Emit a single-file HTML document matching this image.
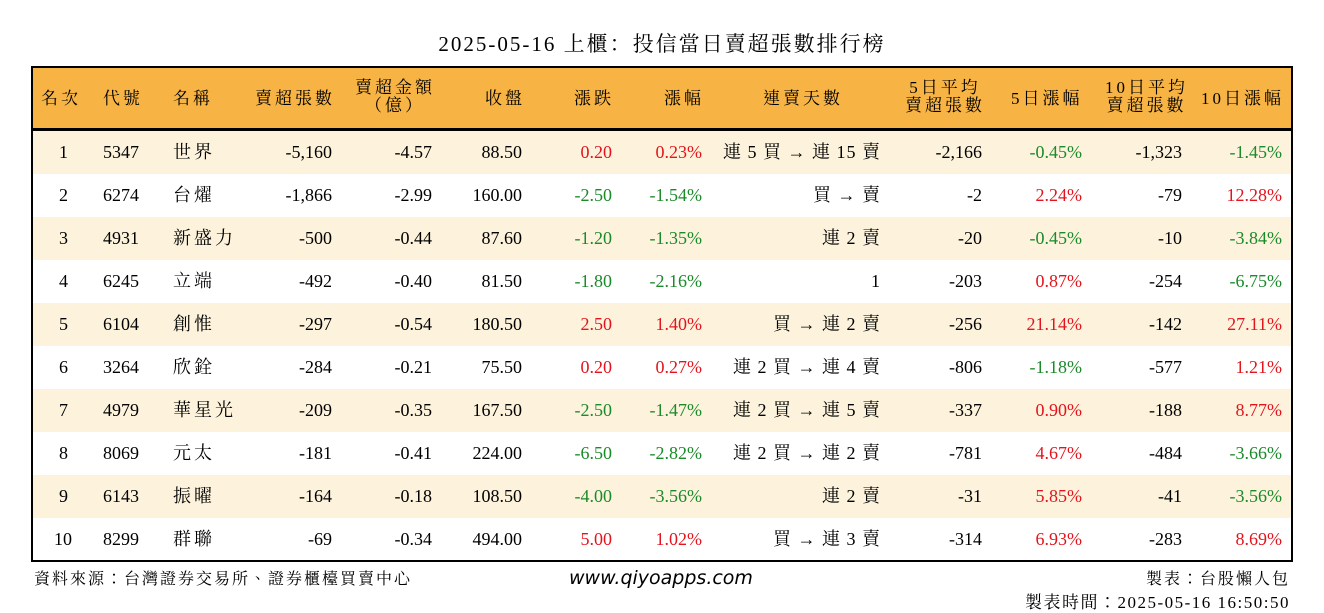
<!DOCTYPE html>
<html><head><meta charset="utf-8">
<style>
body{margin:0;width:1324px;height:612px;background:#fff;position:relative;overflow:hidden;font-family:"Liberation Serif","Noto Serif CJK SC",serif;color:#000}
.title{position:absolute;left:0;width:1324px;top:28px;text-align:center;font-size:21px;letter-spacing:2px}
.tbl{position:absolute;left:31px;top:66px;width:1258px;height:492px;border:2px solid #000;overflow:hidden}
.hdr{position:absolute;left:0;top:0;width:1258px;height:60px;background:#f7b445;border-bottom:3px solid #000}
.row{position:absolute;left:0;width:1258px;height:43px}
.c{position:absolute;font-size:18px;white-space:nowrap;line-height:20px}
.cj{letter-spacing:3px}
.st{letter-spacing:1px}
.h{position:absolute;font-size:17px;line-height:18px;text-align:center;white-space:nowrap;letter-spacing:3px;font-family:"Liberation Serif","Noto Serif CJK TC",serif}
.red{color:#e3141d}.grn{color:#1a8a2a}
.foot{position:absolute;font-size:16px;letter-spacing:2px;font-family:"Liberation Serif","Noto Serif CJK TC",serif}
</style></head><body>
<div class="title">2025-05-16 上櫃：投信當日賣超張數排行榜</div>
<div class="tbl" id="tbl">
<div class="hdr">
<div class="h" style="left:8px;top:22px">名次</div>
<div class="h" style="left:70px;top:22px">代號</div>
<div class="h" style="left:140px;top:22px">名稱</div>
<div class="h" style="left:222px;top:22px">賣超張數</div>
<div class="h" style="left:322px;top:11px">賣超金額<br>（億）</div>
<div class="h" style="left:452px;top:22px">收盤</div>
<div class="h" style="left:541px;top:22px">漲跌</div>
<div class="h" style="left:631px;top:22px">漲幅</div>
<div class="h" style="left:730px;top:22px">連賣天數</div>
<div class="h" style="left:872px;top:11px">5日平均<br>賣超張數</div>
<div class="h" style="left:978px;top:22px">5日漲幅</div>
<div class="h" style="left:1072px;top:11px">10日平均<br>賣超張數</div>
<div class="h" style="left:1168px;top:22px">10日漲幅</div>
</div>
</div>
<div class="foot" style="left:34px;top:566px">資料來源：台灣證券交易所、證券櫃檯買賣中心</div>
<div class="foot" style="left:569px;top:567px;letter-spacing:0;font-family:'DejaVu Sans',sans-serif;font-style:italic;font-size:19px">www.qiyoapps.com</div>
<div class="foot" style="right:34px;top:566px">製表：台股懶人包</div>
<div class="foot" style="right:34px;top:588px;font-size:17px;letter-spacing:1.5px">製表時間：2025-05-16 16:50:50</div>
<script>
const ranks=[1,2,3,4,5,6,7,8,9,10];
const codes=["5347","6274","4931","6245","6104","3264","4979","8069","6143","8299"];
const names=["世界","台燿","新盛力","立端","創惟","欣銓","華星光","元太","振曜","群聯"];
const sellVol=["-5,160","-1,866","-500","-492","-297","-284","-209","-181","-164","-69"];
const sellAmt=["-4.57","-2.99","-0.44","-0.40","-0.54","-0.21","-0.35","-0.41","-0.18","-0.34"];
const closes=["88.50","160.00","87.60","81.50","180.50","75.50","167.50","224.00","108.50","494.00"];
const changes=["0.20","-2.50","-1.20","-1.80","2.50","0.20","-2.50","-6.50","-4.00","5.00"];
const pcts=["0.23%","-1.54%","-1.35%","-2.16%","1.40%","0.27%","-1.47%","-2.82%","-3.56%","1.02%"];
const streaks=["連 5 買 → 連 15 賣","買 → 賣","連 2 賣","1","買 → 連 2 賣","連 2 買 → 連 4 賣","連 2 買 → 連 5 賣","連 2 買 → 連 2 賣","連 2 賣","買 → 連 3 賣"];
const avg5=["-2,166","-2","-20","-203","-256","-806","-337","-781","-31","-314"];
const pct5=["-0.45%","2.24%","-0.45%","0.87%","21.14%","-1.18%","0.90%","4.67%","5.85%","6.93%"];
const avg10=["-1,323","-79","-10","-254","-142","-577","-188","-484","-41","-283"];
const pct10=["-1.45%","12.28%","-3.84%","-6.75%","27.11%","1.21%","8.77%","-3.66%","-3.56%","8.69%"];
const tbl=document.getElementById('tbl');
function cls(v){return v.charAt(0)==='-'?'grn':'red';}
function cell(row,txt,right,left,extra,name){
  const d=document.createElement('div');
  d.className='c '+(extra||'');
  d.textContent=txt;
  if(right!==null)d.style.right=(1258-right)+'px';else d.style.left=left+'px';
  d.style.top='11px';
  
  
  row.appendChild(d);
}
for(let i=0;i<ranks.length;i++){
  const r=document.createElement('div');
  r.className='row';
  r.style.top=(63+i*43)+'px';
  r.style.background=i%2===0?'#fdf3dc':'#fff';
  
  
  cell(r,String(ranks[i]),null,ranks[i]<10?26:21,'','rank-cell');
  cell(r,codes[i],null,70,'','code-cell');
  cell(r,names[i],null,140,'cj','name-cell');
  cell(r,sellVol[i],299,null,'','sell-volume-cell');
  cell(r,sellAmt[i],399,null,'','sell-amount-cell');
  cell(r,closes[i],489,null,'','close-cell');
  cell(r,changes[i],579,null,cls(changes[i]),'change-cell');
  cell(r,pcts[i],669,null,cls(pcts[i]),'pct-cell');
  cell(r,streaks[i],848,null,'st','streak-cell');
  cell(r,avg5[i],949,null,'','avg5-cell');
  cell(r,pct5[i],1049,null,cls(pct5[i]),'pct5-cell');
  cell(r,avg10[i],1149,null,'','avg10-cell');
  cell(r,pct10[i],1249,null,cls(pct10[i]),'pct10-cell');
  tbl.appendChild(r);
}
</script>
</body></html>
